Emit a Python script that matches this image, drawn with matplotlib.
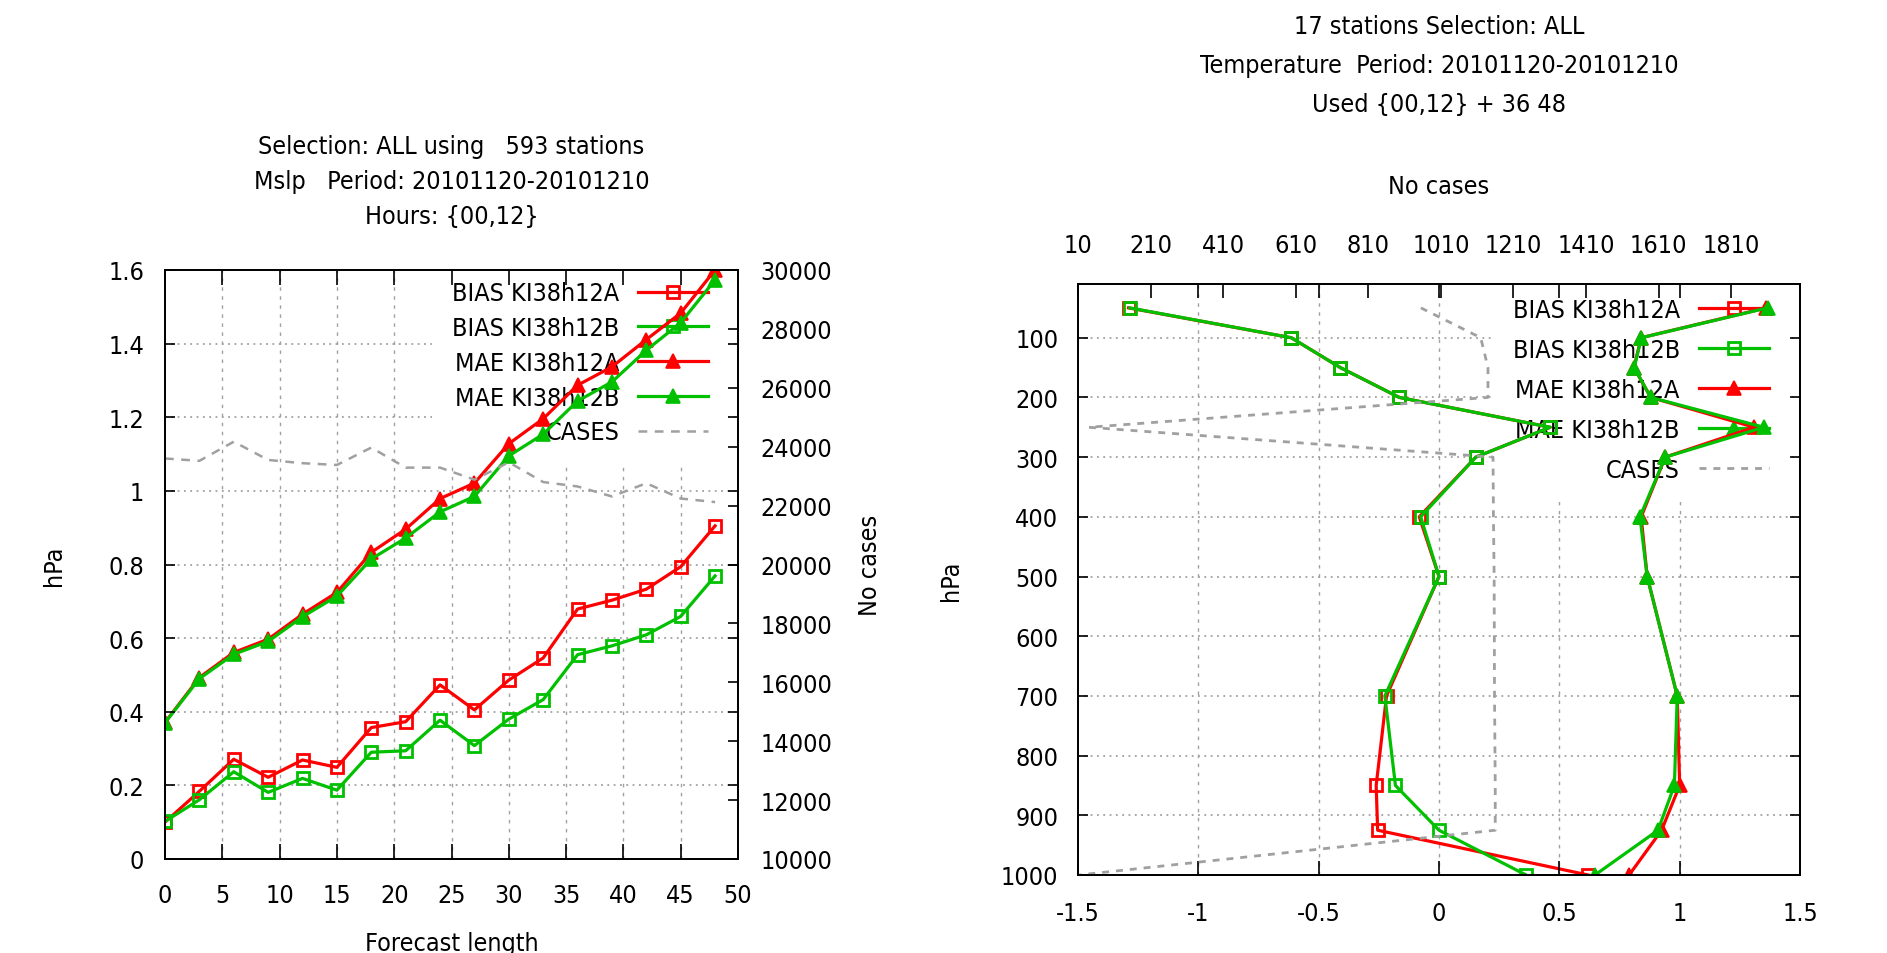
import matplotlib
matplotlib.use('Agg')
import matplotlib.pyplot as plt
from matplotlib.ticker import FixedLocator, FuncFormatter

plt.rcParams['font.family'] = ['DejaVu Sans']
plt.rcParams['font.stretch'] = 'condensed'
plt.rcParams['axes.unicode_minus'] = False

# ---------------- data: left panel (Mslp vs forecast length) ----------------
hours = [0, 3, 6, 9, 12, 15, 18, 21, 24, 27, 30, 33, 36, 39, 42, 45, 48]
bias_a = [0.100, 0.184, 0.271, 0.222, 0.269, 0.249, 0.357, 0.373, 0.473, 0.405,
          0.486, 0.546, 0.679, 0.703, 0.733, 0.794, 0.905]
bias_b = [0.102, 0.161, 0.237, 0.181, 0.219, 0.187, 0.290, 0.294, 0.377, 0.308,
          0.380, 0.433, 0.555, 0.579, 0.609, 0.659, 0.769]
mae_a = [0.371, 0.493, 0.561, 0.597, 0.665, 0.724, 0.833, 0.896, 0.979, 1.021,
         1.128, 1.196, 1.287, 1.337, 1.411, 1.483, 1.600]
mae_b = [0.370, 0.490, 0.556, 0.591, 0.658, 0.714, 0.815, 0.872, 0.943, 0.985,
         1.095, 1.154, 1.244, 1.296, 1.382, 1.457, 1.573]
cases_left = [23600, 23520, 24170, 23550, 23440, 23380, 23970, 23290, 23290, 22880,
              23470, 22800, 22650, 22310, 22760, 22240, 22120]

# ---------------- data: right panel (Temperature profile) ----------------
levels = [50, 100, 150, 200, 250, 300, 400, 500, 700, 850, 925, 1000]
bias_a_r = [-1.29, -0.614, -0.410, -0.165, 0.462, 0.153, -0.082, 0.0, -0.218, -0.261, -0.255, 0.62]
bias_b_r = [-1.285, -0.614, -0.410, -0.165, 0.462, 0.153, -0.076, 0.0, -0.225, -0.181, 0.0, 0.362]
mae_a_r = [1.36, 0.84, 0.81, 0.88, 1.31, 0.94, 0.84, 0.865, 0.99, 1.0, 0.925, 0.79]
mae_b_r = [1.365, 0.841, 0.811, 0.88, 1.35, 0.94, 0.835, 0.865, 0.99, 0.978, 0.91, 0.648]
cases_r = [955, 1120, 1140, 1140, 40, 1154, 1155, 1157, 1158, 1160, 1160, 12]

labels = ['BIAS KI38h12A', 'BIAS KI38h12B', 'MAE KI38h12A', 'MAE KI38h12B', 'CASES']

title_left = ['Selection: ALL using   593 stations',
              'Mslp   Period: 20101120-20101210',
              'Hours: {00,12}']
title_right = ['17 stations Selection: ALL',
               'Temperature  Period: 20101120-20101210',
               'Used {00,12} + 36 48']

RED = '#ff0000'
GREEN = '#00c000'
GREY = '#a0a0a0'
FS = 18

W, H = 1887, 954
fig = plt.figure(figsize=(W / 100, H / 100), dpi=100)


def rect(l, t, r, b):
    return [l / W, 1 - b / H, (r - l) / W, (b - t) / H]


gfmt = FuncFormatter(lambda v, p: '%g' % v)


def grid_axes(r, xlim, ylim, xt, yt):
    g = fig.add_axes(r)
    g.set_zorder(0)
    g.set_xlim(*xlim)
    g.set_ylim(*ylim)
    g.xaxis.set_major_locator(FixedLocator(xt))
    g.yaxis.set_major_locator(FixedLocator(yt))
    g.tick_params(length=0, labelbottom=False, labelleft=False)
    for s in g.spines.values():
        s.set_visible(False)
    g.xaxis.grid(True, color=GREY, lw=1.0, linestyle=(0, (2.5, 4)))
    g.yaxis.grid(True, color=GREY, lw=1.3, linestyle=(0, (1, 2.5)))
    return g


def style_spines(a):
    for s in a.spines.values():
        s.set_linewidth(1.3)
        s.set_color('black')


def make_legend(a, handles, anchor, spacing):
    leg = a.legend(handles=handles, labels=labels, loc='upper right',
                   bbox_to_anchor=anchor, borderaxespad=0, borderpad=0.8,
                   markerfirst=False, frameon=True, fancybox=False,
                   facecolor='white', edgecolor='none', framealpha=1,
                   fontsize=FS, handlelength=2.8, handletextpad=0.75,
                   labelspacing=spacing)
    leg.set_zorder(1)
    for vp in leg._legend_handle_box.get_children():
        vp.align = 'right'
    return leg


lw, ms_s, ms_t, mew_s = 2.3, 8.5, 10.5, 2.0

# ================= LEFT PANEL =================
rL = rect(165, 271, 738, 860)
grid_axes(rL, (0, 50), (0, 1.6), list(range(5, 50, 5)), [0.2 * i for i in range(1, 8)])

ax1 = fig.add_axes(rL)
ax1.set_zorder(1)
ax1.patch.set_visible(False)
ax1.set_xlim(0, 50)
ax1.set_ylim(0, 1.6)
ax1.xaxis.set_major_locator(FixedLocator(list(range(0, 51, 5))))
ax1.yaxis.set_major_locator(FixedLocator([0.2 * i for i in range(9)]))
ax1.xaxis.set_major_formatter(gfmt)
ax1.yaxis.set_major_formatter(gfmt)
ax1.set_axisbelow(False)

h1, = ax1.plot(hours, bias_a, color=RED, lw=lw, marker='s', ms=ms_s, mfc='none', mew=mew_s, zorder=2)
h2, = ax1.plot(hours, bias_b, color=GREEN, lw=lw, marker='s', ms=ms_s, mfc='none', mew=mew_s, zorder=2.1)
h3, = ax1.plot(hours, mae_a, color=RED, lw=lw, marker='^', ms=ms_t, mfc=RED, mew=1.2, zorder=2)
h4, = ax1.plot(hours, mae_b, color=GREEN, lw=lw, marker='^', ms=ms_t, mfc=GREEN, mew=1.2, zorder=2.1)

ax1b = ax1.twinx()
ax1b.set_zorder(2)
ax1b.set_ylim(10000, 30000)
ax1b.yaxis.set_major_locator(FixedLocator(list(range(10000, 30001, 2000))))
h5, = ax1b.plot(hours, cases_left, color=GREY, lw=1.8, dashes=(3.5, 3))

ax1.tick_params(axis='both', direction='in', labelsize=FS, top=True, right=True, width=1.2)
ax1.tick_params(axis='x', length=11, pad=17)
ax1.tick_params(axis='y', length=7, pad=15)
ax1b.tick_params(axis='y', direction='in', length=7, width=1.2, labelsize=FS, pad=16)
style_spines(ax1)
style_spines(ax1b)

make_legend(ax1, [h1, h2, h3, h4, h5], ((728 - 165) / 573, (860 - 262.4) / 589), 0.43)

ax1.set_ylabel('hPa', fontsize=FS)
ax1.yaxis.set_label_coords((66 - 165) / 573, 0.5)
ax1b.set_ylabel('No cases', fontsize=FS)
ax1b.yaxis.set_label_coords((858 - 165) / 573, 0.5)
ax1.set_xlabel('Forecast length', fontsize=FS)
ax1.xaxis.set_label_coords(0.5, (860 - 944) / 589)
ax1.xaxis.label.set_va('center')

for txt, y in zip(title_left, [146.8, 181.7, 216.6]):
    fig.text(451.5 / W, 1 - y / H, txt, ha='center', va='center', fontsize=FS)

# ================= RIGHT PANEL =================
rR = rect(1078, 285, 1800, 876)
grid_axes(rR, (-1.5, 1.5), (1000, 10), [-1, -0.5, 0, 0.5, 1], list(range(100, 1000, 100)))

ax3 = fig.add_axes(rR)
ax3.set_zorder(1)
ax3.patch.set_visible(False)
ax3.set_xlim(-1.5, 1.5)
ax3.set_ylim(1000, 10)
ax3.xaxis.set_major_locator(FixedLocator([-1.5, -1, -0.5, 0, 0.5, 1, 1.5]))
ax3.yaxis.set_major_locator(FixedLocator(list(range(100, 1001, 100))))
ax3.xaxis.set_major_formatter(gfmt)
ax3.yaxis.set_major_formatter(gfmt)
ax3.set_axisbelow(False)

g1, = ax3.plot(bias_a_r, levels, color=RED, lw=lw, marker='s', ms=ms_s, mfc='none', mew=mew_s, zorder=2)
g2, = ax3.plot(bias_b_r, levels, color=GREEN, lw=lw, marker='s', ms=ms_s, mfc='none', mew=mew_s, zorder=2.1)
g3, = ax3.plot(mae_a_r, levels, color=RED, lw=lw, marker='^', ms=ms_t, mfc=RED, mew=1.2, zorder=2)
g4, = ax3.plot(mae_b_r, levels, color=GREEN, lw=lw, marker='^', ms=ms_t, mfc=GREEN, mew=1.2, zorder=2.1)

ax3b = ax3.twiny()
ax3b.set_zorder(2)
ax3b.set_xlim(10, 2000)
ax3b.xaxis.set_major_locator(FixedLocator(list(range(10, 1811, 200))))
g5, = ax3b.plot(cases_r, levels, color=GREY, lw=2.0, dashes=(2.5, 2.5))

ax3.tick_params(axis='both', direction='in', labelsize=FS, top=True, right=True, width=1.2)
ax3.tick_params(axis='x', length=10, pad=19)
ax3.tick_params(axis='y', length=7, pad=14)
ax3b.tick_params(axis='x', direction='in', length=10, width=1.2, labelsize=FS, pad=19.5)
style_spines(ax3)
style_spines(ax3b)

make_legend(ax3, [g1, g2, g3, g4, g5], ((1788.6 - 1078) / 722, (876 - 278.5) / 591), 0.64)

ax3.set_ylabel('hPa', fontsize=FS)
ax3.yaxis.set_label_coords((963 - 1078) / 722, 0.5)
ax3b.set_xlabel('No cases', fontsize=FS)
ax3b.xaxis.set_label_coords(0.5, (876 - 187) / 591)
ax3b.xaxis.label.set_va('center')

for txt, y in zip(title_right, [26.5, 66.2, 104.7]):
    fig.text(1439 / W, 1 - y / H, txt, ha='center', va='center', fontsize=FS)

fig.savefig('out.png', dpi=100)
